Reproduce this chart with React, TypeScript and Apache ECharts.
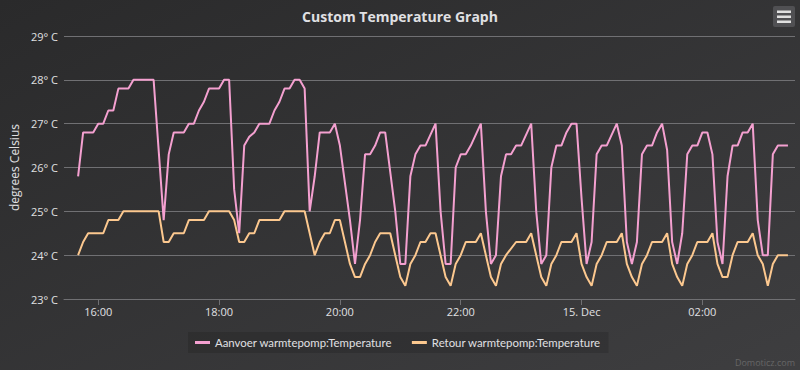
import React, { useEffect, useRef } from "react";
import * as echarts from "echarts";

const chartTitle = "Custom Temperature Graph";
const yAxisName = "degrees Celsius";
const seriesNames = ["Aanvoer warmtepomp:Temperature", "Retour warmtepomp:Temperature"];

const aanvoerTimes = [
  "15:40","15:45","15:55","16:00","16:05","16:10","16:15","16:20","16:30","16:35","16:55",
  "17:05","17:10","17:15","17:25","17:30","17:35","17:40","17:45","17:50","18:00","18:05","18:10",
  "18:15","18:20","18:25","18:30","18:35","18:40","18:50","18:55","19:00","19:05","19:10","19:15",
  "19:20","19:25","19:30","19:35","19:40","19:50","19:55","20:00","20:10","20:15","20:20","20:25",
  "20:30","20:35","20:40","20:45","20:55","21:00","21:05","21:10","21:15","21:20","21:25","21:35",
  "21:40","21:45","21:50","21:55","22:00","22:05","22:10","22:20","22:25","22:30","22:35","22:40",
  "22:45","22:50","22:55","23:00","23:10","23:15","23:20","23:25","23:30","23:35","23:40","23:45",
  "23:50","23:55","00:00","00:05","00:10","00:15","00:20","00:25","00:35","00:40","00:45","00:50",
  "00:55","01:00","01:05","01:10","01:15","01:20","01:25","01:30","01:35","01:40","01:45","01:50",
  "01:55","02:00","02:05","02:10","02:15","02:20","02:25","02:30","02:35","02:40","02:45","02:50",
  "02:55","03:00","03:05","03:10","03:15","03:25"
];
const aanvoerValues = [
  25.8,26.8,26.8,27.0,27.0,27.3,27.3,27.8,27.8,28.0,28.0,
  24.8,26.3,26.8,26.8,27.0,27.0,27.3,27.5,27.8,27.8,28.0,28.0,
  25.5,24.5,26.5,26.7,26.8,27.0,27.0,27.3,27.5,27.8,27.8,28.0,
  28.0,27.8,25.0,25.8,26.8,26.8,27.0,26.5,24.8,23.8,24.8,26.3,
  26.3,26.5,26.8,26.8,25.0,23.8,23.8,25.8,26.3,26.5,26.5,27.0,
  25.0,23.8,23.8,26.0,26.3,26.3,26.5,27.0,25.0,23.8,24.0,25.8,
  26.3,26.3,26.5,26.5,27.0,25.0,23.8,24.0,26.0,26.5,26.5,26.8,
  27.0,27.0,25.3,23.8,24.3,26.3,26.5,26.5,27.0,26.5,24.3,23.8,
  24.3,26.3,26.5,26.5,26.8,27.0,26.4,24.3,23.8,24.5,26.3,26.5,
  26.5,26.8,26.8,26.3,24.3,23.8,25.8,26.5,26.5,26.8,26.8,27.0,
  24.8,24.0,24.0,26.3,26.5,26.5
];

const retourTimes = [
  "15:40","15:45","15:50","16:05","16:10","16:20","16:25","17:00","17:05","17:10","17:15","17:25",
  "17:30","17:45","17:50","18:10","18:15","18:20","18:25","18:30","18:35","18:40","19:00","19:05",
  "19:25","19:35","19:40","19:45","19:50","19:55","20:00","20:05","20:10","20:15","20:20","20:25",
  "20:30","20:35","20:40","20:50","20:55","21:00","21:05","21:10","21:15","21:20","21:25","21:30",
  "21:35","21:40","21:45","21:50","21:55","22:00","22:05","22:15","22:20","22:25","22:30","22:35",
  "22:40","22:45","22:55","23:05","23:10","23:15","23:20","23:25","23:30","23:35","23:40","23:50",
  "23:55","00:00","00:05","00:10","00:15","00:20","00:25","00:35","00:40","00:45","00:50","00:55",
  "01:00","01:05","01:10","01:20","01:25","01:30","01:35","01:40","01:45","01:50","01:55","02:05",
  "02:10","02:15","02:20","02:25","02:30","02:35","02:45","02:50","02:55","03:00","03:05","03:10",
  "03:15","03:25"
];
const retourValues = [
  24.0,24.3,24.5,24.5,24.8,24.8,25.0,25.0,24.3,24.3,24.5,24.5,
  24.8,24.8,25.0,25.0,24.8,24.3,24.3,24.5,24.5,24.8,24.8,25.0,
  25.0,24.0,24.3,24.5,24.5,24.8,24.8,24.3,23.8,23.5,23.5,23.8,
  24.0,24.3,24.5,24.5,24.0,23.5,23.3,23.8,24.0,24.3,24.3,24.5,
  24.5,24.0,23.5,23.3,23.8,24.0,24.3,24.3,24.5,24.0,23.5,23.3,
  23.8,24.0,24.3,24.3,24.5,24.0,23.5,23.3,23.8,24.0,24.3,24.3,
  24.5,23.8,23.5,23.3,23.8,24.0,24.3,24.3,24.5,23.8,23.5,23.3,
  23.8,24.0,24.3,24.3,24.5,23.8,23.5,23.3,23.8,24.0,24.3,24.3,
  24.5,23.8,23.5,23.5,24.0,24.3,24.3,24.5,24.0,23.8,23.3,23.8,
  24.0,24.0
];

const tickTimes = ["16:00", "18:00", "20:00", "22:00", "00:00", "02:00"];
const tickLabels = ["16:00", "18:00", "20:00", "22:00", "15. Dec", "02:00"];
const axisStart = "15:26";
const axisEnd = "03:32";
const yMin = 23;
const yMax = 29;

function toTs(hhmm: string): number {
  const [h, m] = hhmm.split(":").map(Number);
  const day = h < 12 ? 15 : 14;
  return Date.UTC(2023, 11, day, h, m);
}

export default function App() {
  const ref = useRef<HTMLDivElement>(null);
  useEffect(() => {
    document.body.style.margin = "0";
    if (!ref.current) return;
    const chart = echarts.init(ref.current, undefined, { renderer: "svg" });
    const tickTs = tickTimes.map(toTs);
    const textColor = "#E0E0E3";
    const font = "'Open Sans', 'Noto Sans', sans-serif";
    chart.setOption({
      animation: false,
      backgroundColor: new echarts.graphic.LinearGradient(0, 0, 1, 1, [
        { offset: 0, color: "#2a2a2b" },
        { offset: 1, color: "#3e3e40" },
      ]),
      textStyle: { fontFamily: font },
      title: {
        text: chartTitle,
        left: "center",
        top: 4,
        textStyle: { color: textColor, fontSize: 14, fontWeight: "bold", fontFamily: font },
      },
      grid: { left: 62, right: 5, top: 36, bottom: 71, containLabel: false },
      legend: {
        left: 188,
        top: 332,
        padding: [5, 8, 5, 7],
        itemGap: 20,
        itemWidth: 15,
        itemHeight: 3,
        icon: "rect",
        backgroundColor: "rgba(0,0,0,0.13)",
        textStyle: { color: textColor, fontSize: 11.4, fontFamily: "Lato, sans-serif" },
        data: seriesNames,
      },
      xAxis: {
        type: "value",
        min: toTs(axisStart),
        max: toTs(axisEnd),
        axisLine: { lineStyle: { color: "#707073", width: 1 } },
        axisTick: { show: true, length: 6, customValues: tickTs, lineStyle: { color: "#707073" } },
        axisLabel: {
          customValues: tickTs,
          color: textColor,
          fontSize: 11,
          margin: 7,
          fontFamily: font,
          formatter: (v: number) => {
            const i = tickTs.indexOf(v);
            return i >= 0 ? tickLabels[i] : "";
          },
        },
        splitLine: { show: false },
      },
      yAxis: {
        type: "value",
        min: yMin,
        max: yMax,
        interval: 1,
        name: yAxisName,
        nameLocation: "middle",
        nameRotate: 90,
        nameGap: 44,
        nameTextStyle: { color: textColor, fontSize: 12, fontFamily: font },
        axisLine: { show: false },
        axisTick: { show: false },
        axisLabel: {
          color: textColor,
          fontSize: 11,
          margin: 6,
          fontFamily: font,
          formatter: (v: number) => `${v}° C`,
        },
        splitLine: { lineStyle: { color: "#707073", width: 1 } },
      },
      series: [
        {
          name: seriesNames[0],
          type: "line",
          showSymbol: false,
          data: aanvoerTimes.map((t, i) => [toTs(t), aanvoerValues[i]]),
          lineStyle: { width: 2, color: "#f4a0d0" },
          itemStyle: { color: "#f4a0d0" },
        },
        {
          name: seriesNames[1],
          type: "line",
          showSymbol: false,
          data: retourTimes.map((t, i) => [toTs(t), retourValues[i]]),
          lineStyle: { width: 2, color: "#fcc88f" },
          itemStyle: { color: "#fcc88f" },
        },
      ],
      graphic: [
        { type: "rect", shape: { x: 773, y: 6, width: 22, height: 21, r: 2 }, style: { fill: "#505053" } },
        { type: "rect", shape: { x: 777, y: 10.5, width: 14, height: 2.5 }, style: { fill: "#E0E0E0" } },
        { type: "rect", shape: { x: 777, y: 15.5, width: 14, height: 2.5 }, style: { fill: "#E0E0E0" } },
        { type: "rect", shape: { x: 777, y: 20.5, width: 14, height: 2.5 }, style: { fill: "#E0E0E0" } },
        {
          type: "text",
          right: 5,
          bottom: 3,
          style: { text: "Domoticz.com", fill: "#666666", fontSize: 9, fontFamily: font },
        },
      ],
    });
    return () => chart.dispose();
  }, []);
  return <div ref={ref} style={{ width: 800, height: 370 }} />;
}
